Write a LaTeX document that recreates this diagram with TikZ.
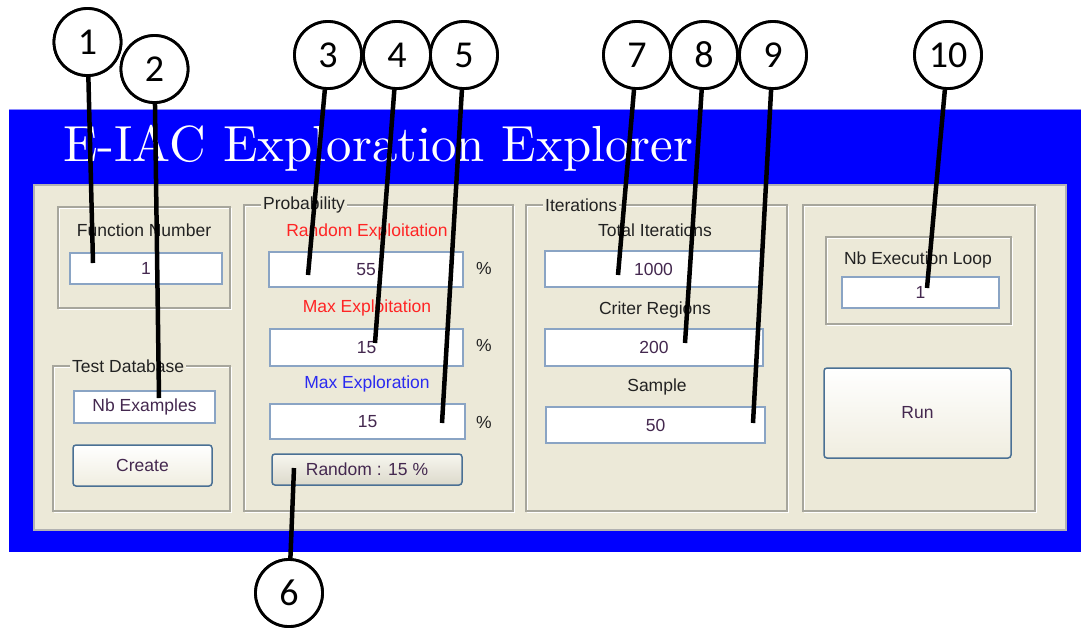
\documentclass[tikz,border=0pt]{standalone}
\usepackage{fontspec}
\setsansfont{Liberation Sans}
\newfontfamily\circfont{Carlito}
\usepackage{graphicx}

\definecolor{winblue}{HTML}{0000FF}
\definecolor{panel}{HTML}{ECE9D8}
\definecolor{etch}{HTML}{A7A69C}
\definecolor{fieldedge}{HTML}{8AA4C4}
\definecolor{btnedge}{HTML}{4A7094}
\definecolor{valtext}{HTML}{44284F}
\definecolor{labtext}{HTML}{222222}
\definecolor{redlab}{HTML}{FF2424}
\definecolor{bluelab}{HTML}{2A2AF0}

\tikzset{
  uifont/.style={font=\sffamily\fontsize{17.5}{20}\selectfont},
  lab/.style={uifont, text=labtext, inner sep=0pt},
  field/.style={draw=fieldedge, line width=1.3pt, fill=white, uifont,
                text=valtext, inner sep=0pt},
  button/.style={draw=btnedge, line width=1.5pt, rounded corners=3pt,
                 top color=white, bottom color=panel!80!white, uifont,
                 text=valtext, inner sep=0pt},
  grouptitle/.style={lab, fill=panel, inner xsep=2pt, anchor=west},
  callout/.style={circle, draw=black, line width=2.8pt, fill=white,
                  minimum size=67pt, inner sep=0pt,
                  font=\circfont\fontsize{38}{38}\selectfont},
  leader/.style={line width=4.5pt, black},
}

% etched frame used for the grouping boxes
\newcommand{\etchbox}[4]{%
  \draw[white, line width=1pt] (#1+1.5,#2+1.5) rectangle (#3+1.5,#4+1.5);
  \draw[etch, line width=1.2pt] (#1,#2) rectangle (#3,#4);}

\begin{document}
\begin{tikzpicture}[x=1pt,y=-1pt]
\useasboundingbox (0,0) rectangle (1081,630);
\fill[white] (0,0) rectangle (1081,630);

% window frame and panel
\fill[winblue] (9,109) rectangle (1081,552);
\draw[winblue!45, line width=1pt] (9,109) -- (1081,109);
\draw[gray!60, fill=panel, line width=1.2pt] (34,185) rectangle (1066,530);

\node[anchor=base west, text=white, inner sep=0pt] (title) at (63,161)
  {\resizebox{630pt}{!}{\rmfamily E-IAC Exploration Explorer}};

% ---- function number / test database
\etchbox{58}{207}{230}{308}
\node[lab] (fnlab) at (144,230) {Function Number};
\node[field, minimum width=152pt, minimum height=31pt] (fnfield) at (146,268.5) {1};

\etchbox{53}{366}{230}{511}
\node[grouptitle] (tdlab) at (70,366) {Test Database};
\node[field, minimum width=141pt, minimum height=32pt] (nbex) at (144.5,407) {Nb Examples};
\node[button, minimum width=139pt, minimum height=41pt] (create) at (142.5,465.5) {Create};

% ---- probability
\etchbox{244}{205}{513}{511}
\node[grouptitle] (problab) at (261,205) {Probability};
\node[lab, text=redlab] (rexlab) at (367,232) {Random Exploitation};
\node[field, minimum width=194pt, minimum height=35pt] (rexf) at (366,269.5) {55};
\node[lab] (pc1) at (484,268) {\%};
\node[lab, text=redlab] (mexlab) at (367,308) {Max Exploitation};
\node[field, minimum width=193pt, minimum height=37pt] (mexf) at (366.5,347.5) {15};
\node[lab] (pc2) at (484,345) {\%};
\node[lab, text=bluelab] (mxplab) at (367,384) {Max Exploration};
\node[field, minimum width=195pt, minimum height=35pt] (mxpf) at (367.5,421.5) {15};
\node[lab] (pc3) at (484,422) {\%};
\node[button, top color=panel!40!white, bottom color=panel!85!gray,
      minimum width=190pt, minimum height=31pt] (randbtn) at (367,469.5) {Random : 15 \%};

% ---- iterations
\etchbox{526}{205}{787}{511}
\node[grouptitle] (iterlab) at (543,205) {Iterations};
\node[lab] (totlab) at (655,230) {Total Iterations};
\node[field, minimum width=217pt, minimum height=36pt] (totf) at (653.5,269) {1000};
\node[lab] (critlab) at (655,310) {Criter Regions};
\node[field, minimum width=218pt, minimum height=37pt] (critf) at (654,347.5) {200};
\node[lab] (samplab) at (657,387) {Sample};
\node[field, minimum width=219pt, minimum height=36pt] (sampf) at (655.5,425) {50};

% ---- execution
\etchbox{803}{205}{1035}{511}
\etchbox{826}{237}{1011}{324}
\node[lab] (looplab) at (918,260) {Nb Execution Loop};
\node[field, minimum width=157pt, minimum height=31pt] (loopf) at (920.5,292.5) {1};
\node[button, minimum width=187pt, minimum height=90pt] (run) at (917.5,413) {Run};

% ---- numbered callouts
\coordinate (p1) at (93,263);
\coordinate (p2) at (159,398);
\coordinate (p3) at (308,275);
\coordinate (p4) at (375,343);
\coordinate (p5) at (442,423);
\coordinate (p6) at (294,468);
\coordinate (p7) at (618,275);
\coordinate (p8) at (685,343);
\coordinate (p9) at (753,423);
\coordinate (p10) at (927,288);

\node[callout] (c1) at (87.5,42) {1};
\node[callout] (c2) at (154.5,69) {2};
\node[callout] (c3) at (328,55) {3};
\node[callout] (c4) at (397,55) {4};
\node[callout] (c5) at (464,55) {5};
\node[callout] (c6) at (289,593) {6};
\node[callout] (c7) at (637,55) {7};
\node[callout] (c8) at (704,55) {8};
\node[callout] (c9) at (773,55) {9};
\node[callout] (c10) at (948,55) {10};

\foreach \k in {1,...,10} {
  \draw[leader] (c\k) -- (p\k);
}
% redraw the circles so the leaders start at their rims
\foreach \k/\x/\y in {1/87.5/42,2/154.5/69,3/328/55,4/397/55,5/464/55,
                      6/289/593,7/637/55,8/704/55,9/773/55,10/948/55} {
  \node[callout] at (\x,\y) {\k};
}
\end{tikzpicture}
\end{document}
